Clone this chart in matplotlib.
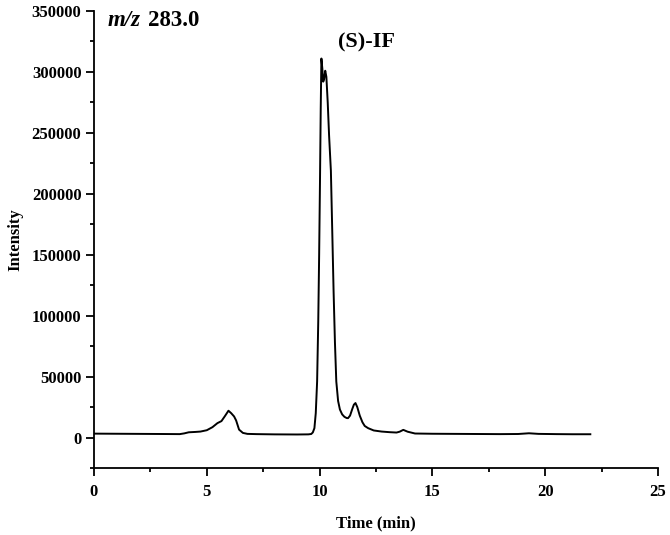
import matplotlib
matplotlib.use("Agg")
import matplotlib.pyplot as plt
from matplotlib.ticker import MultipleLocator

# Chromatogram trace (time in min, intensity)
time_min = [0.0, 1.0, 2.0, 3.0, 3.8, 4.0, 4.2, 4.5, 4.72, 5.0, 5.25, 5.47, 5.65,
            5.8, 5.96, 6.08, 6.21, 6.3, 6.43, 6.6, 6.8, 7.2, 8.0, 9.0, 9.5,
            9.63, 9.7, 9.77, 9.83, 9.89, 9.94, 9.98, 10.02, 10.05, 10.08,
            10.12, 10.16, 10.2, 10.25, 10.3, 10.36, 10.42, 10.5, 10.56, 10.62,
            10.68, 10.74, 10.82, 10.9, 11.0, 11.1, 11.2, 11.26, 11.35, 11.45,
            11.52, 11.59, 11.67, 11.78, 11.9, 12.0, 12.15, 12.4, 12.75, 13.1,
            13.41, 13.55, 13.71, 13.9, 14.23, 15.0, 16.0, 17.0, 18.0, 18.8,
            19.28, 19.7, 20.5, 21.2, 22.0]
intensity = [3200, 3100, 3000, 2900, 2800, 3400, 4300, 4600, 4900, 6000, 8500,
             11800, 13500, 17500, 22000, 20000, 17300, 14000, 6500, 3800, 3000,
             2800, 2600, 2500, 2600, 2900, 4200, 7700, 20000, 46000, 95000,
             150000, 215000, 270000, 311000, 303000, 292000, 294000, 301000,
             296000, 275000, 248000, 219000, 170000, 120000, 78000, 46000,
             30000, 23000, 19000, 17000, 16000, 15900, 18000, 23500, 27000,
             28300, 25000, 18000, 12500, 9500, 7700, 5800, 4900, 4400, 4100,
             4800, 6300, 4800, 3300, 3100, 3000, 2900, 2800, 2900, 3500, 3000,
             2800, 2700, 2700]

x_ticks = [0, 5, 10, 15, 20, 25]
y_ticks = [0, 50000, 100000, 150000, 200000, 250000, 300000, 350000]

plt.rcParams['font.family'] = ['Liberation Serif', 'DejaVu Serif']
plt.rcParams['font.weight'] = 'bold'

fig = plt.figure(figsize=(6.7, 5.35), dpi=100)
ax = fig.add_axes([94/670, 1-468/535, (658-94)/670, (468-11)/535])

ax.plot(time_min, intensity, color='black', lw=1.4)

ax.set_xlim(0, 25)
ax.set_ylim(-25000, 350000)
ax.set_xticks(x_ticks)
ax.set_yticks(y_ticks)
ax.xaxis.set_minor_locator(MultipleLocator(2.5))
ax.yaxis.set_minor_locator(MultipleLocator(25000))
ax.set_xticklabels([str(v) for v in x_ticks], fontsize=12, fontweight='bold')
ax.set_yticklabels([str(v) for v in y_ticks], fontsize=12, fontweight='bold')
ax.tick_params(axis='x', pad=6)

for s in ['top', 'right']:
    ax.spines[s].set_visible(False)
for s in ['left', 'bottom']:
    ax.spines[s].set_linewidth(1.3)

ax.tick_params(which='major', direction='out', length=5.5, width=1.3)
ax.tick_params(which='minor', direction='out', length=3.2, width=1.3)

ax.set_xlabel('Time (min)', fontsize=12, fontweight='bold', labelpad=11)
ax.set_ylabel('Intensity', fontsize=12, fontweight='bold', labelpad=6)

ax.text(0.58, 342000, 'm/z', fontsize=16.5, fontweight='bold', fontstyle='italic',
        va='center', ha='left')
ax.text(2.4, 342000, '283.0', fontsize=16.5, fontweight='bold', va='center', ha='left')
ax.text(10.8, 324000, '(S)-IF', fontsize=16, fontweight='bold', va='center', ha='left')

fig.savefig('out.png', dpi=100)
